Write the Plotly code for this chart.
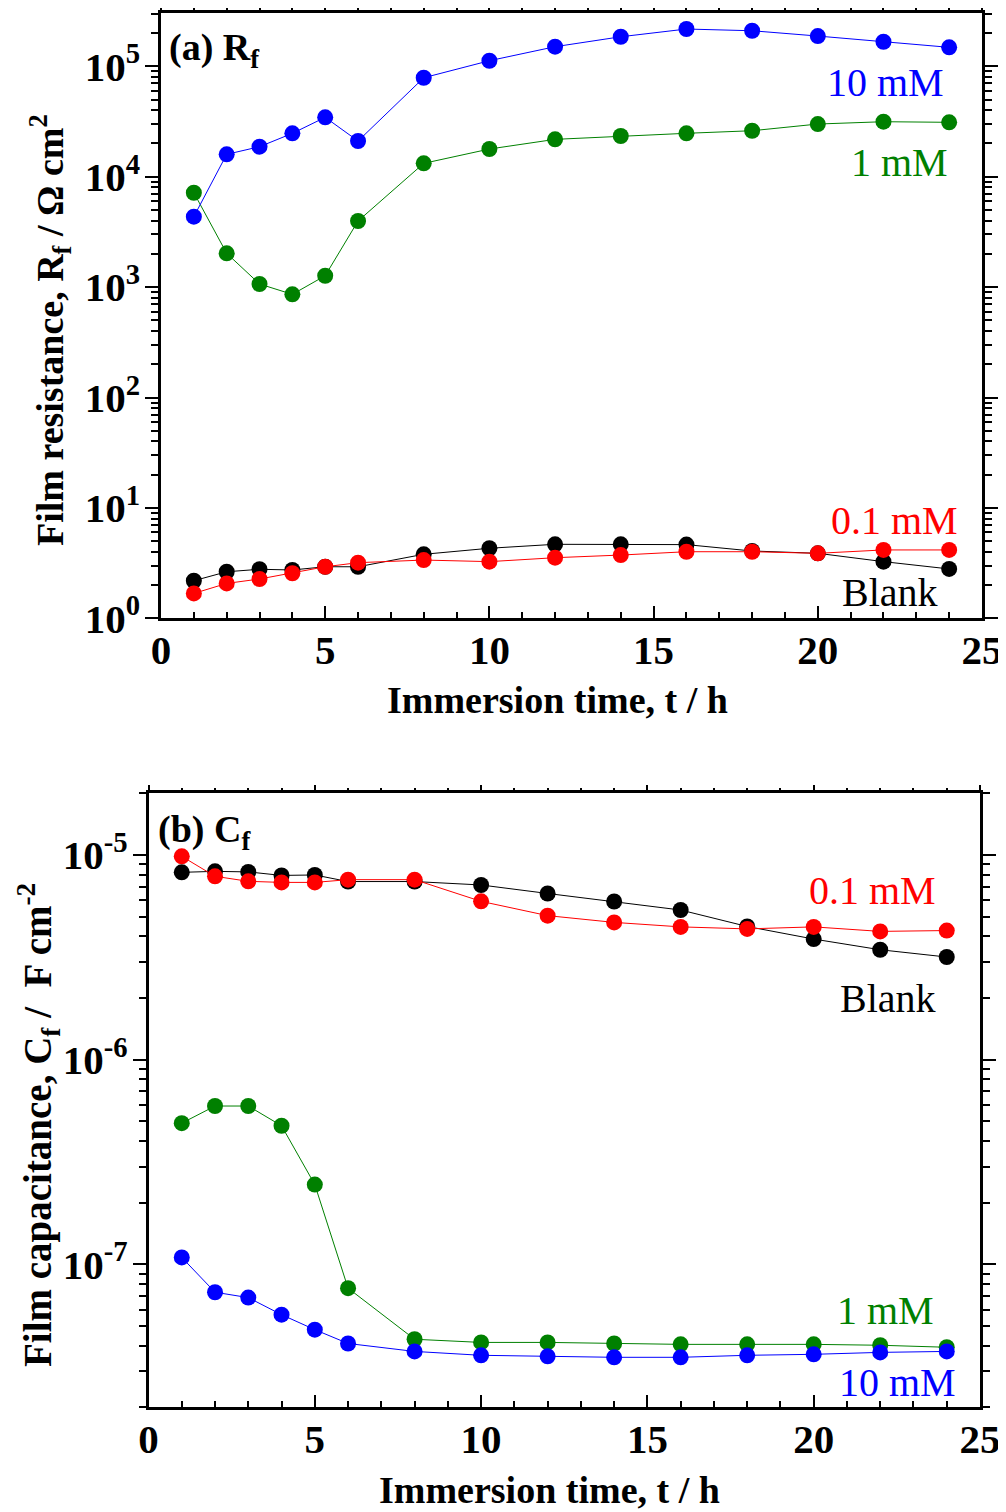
import plotly.graph_objects as go
import numpy as np

# ---------------- data ----------------
time_h = [1, 2, 3, 4, 5, 6, 8, 10, 12, 14, 16, 18, 20, 22, 24]

rf_blank = [2.19, 2.64, 2.78, 2.74, 2.93, 2.93, 3.80, 4.31, 4.68, 4.68, 4.65, 4.07, 3.88, 3.26, 2.80]
rf_01mM = [1.68, 2.07, 2.27, 2.56, 2.93, 3.19, 3.37, 3.26, 3.54, 3.74, 4.01, 4.01, 3.88, 4.16, 4.16]
rf_1mM = [7160, 2024, 1067, 860, 1268, 3970, 13220, 17820, 21800, 23380, 24730, 26100, 30000, 31500, 31100]
rf_10mM = [4345, 15950, 18700, 24700, 34500, 21050, 78800, 112400, 150600, 185300, 217700, 210000, 188000, 167000, 148600]

cf_blank = [8.22e-6, 8.31e-6, 8.26e-6, 7.94e-6, 7.98e-6, 7.41e-6, 7.41e-6, 7.13e-6, 6.48e-6, 5.92e-6, 5.38e-6, 4.47e-6, 3.88e-6, 3.44e-6, 3.17e-6]
cf_01mM = [9.84e-6, 7.86e-6, 7.43e-6, 7.34e-6, 7.34e-6, 7.57e-6, 7.57e-6, 5.93e-6, 5.05e-6, 4.68e-6, 4.45e-6, 4.35e-6, 4.45e-6, 4.23e-6, 4.27e-6]
cf_1mM = [4.89e-7, 5.93e-7, 5.93e-7, 4.75e-7, 2.45e-7, 7.64e-8, 4.30e-8, 4.15e-8, 4.15e-8, 4.10e-8, 4.06e-8, 4.06e-8, 4.06e-8, 4.02e-8, 3.93e-8]
cf_10mM = [1.08e-7, 7.30e-8, 6.87e-8, 5.67e-8, 4.79e-8, 4.10e-8, 3.75e-8, 3.59e-8, 3.55e-8, 3.51e-8, 3.51e-8, 3.59e-8, 3.63e-8, 3.71e-8, 3.75e-8]

x_ticks = [0, 5, 10, 15, 20, 25]
rf_tick_exp = [0, 1, 2, 3, 4, 5]
cf_tick_exp = [-7, -6, -5]

series_names = ["Blank", "0.1 mM", "1 mM", "10 mM"]
colors = ["#000000", "#FF0000", "#008000", "#0000FF"]

# ---------------- figure ----------------
W, H = 1006, 1512
OFF = 8  # page body margin
FONT = "Liberation Serif"

def px_x(p):
    return (p - OFF) / W

def px_y(p):
    return 1 - (p - OFF) / H

fig = go.Figure()

for vals, name, col in zip([rf_blank, rf_01mM, rf_1mM, rf_10mM], series_names, colors):
    fig.add_trace(go.Scatter(x=time_h, y=vals, mode="lines+markers", name=name,
                             line=dict(color=col, width=1),
                             marker=dict(color=col, size=16, line=dict(width=0)),
                             xaxis="x", yaxis="y", showlegend=False))
for vals, name, col in zip([cf_blank, cf_01mM, cf_1mM, cf_10mM], series_names, colors):
    fig.add_trace(go.Scatter(x=time_h, y=vals, mode="lines+markers", name=name,
                             line=dict(color=col, width=1),
                             marker=dict(color=col, size=16, line=dict(width=0)),
                             xaxis="x2", yaxis="y2", showlegend=False))
# dummy traces for the top tick axes
fig.add_trace(go.Scatter(x=[None], y=[None], xaxis="x3", yaxis="y", showlegend=False, hoverinfo="skip"))
fig.add_trace(go.Scatter(x=[None], y=[None], xaxis="x4", yaxis="y2", showlegend=False, hoverinfo="skip"))

top_dom_x = [px_x(161), px_x(982)]
bot_dom_x = [px_x(148.5), px_x(980)]
top_dom_y = [px_y(618.3), px_y(13)]
bot_dom_y = [px_y(1407.3), px_y(793.3)]

tickfont = dict(family=FONT, size=41, color="black")

def xax(domain, anchor, show_labels=True):
    return dict(domain=domain, anchor=anchor, range=[0, 25], tickmode="array",
                tickvals=x_ticks, ticktext=[f"<b>{v}</b>" for v in x_ticks],
                ticks="inside", ticklen=13, tickwidth=2, tickcolor="black",
                showline=True, linecolor="black", linewidth=2.5, mirror=True,
                showgrid=False, zeroline=False, tickfont=tickfont,
                showticklabels=show_labels, ticklabelstandoff=-6,
                minor=dict(dtick=1, tick0=0, ticks="inside", ticklen=7, tickwidth=1.5, tickcolor="black"))

def xtop(domain, anchor, over):
    return dict(domain=domain, anchor=anchor, overlaying=over, side="top", range=[0, 25],
                tickmode="linear", tick0=0, dtick=5, ticks="outside", ticklen=7, tickwidth=1.5,
                tickcolor="black", showticklabels=False, showline=False, showgrid=False, zeroline=False,
                minor=dict(dtick=1, tick0=0, ticks="outside", ticklen=4, tickwidth=1.5, tickcolor="black"))

def yax(domain, anchor, rng, exps):
    lo, hi = int(np.floor(rng[0])), int(np.ceil(rng[1]))
    minor_vals = [m * 10 ** e for e in range(lo, hi + 1) for m in range(2, 10)]
    return dict(domain=domain, anchor=anchor, type="log", range=rng, tickmode="array",
                tickvals=[10 ** e for e in exps],
                ticktext=[f"<b>10<sup>{e}</sup></b>" for e in exps],
                ticks="outside", ticklen=13, tickwidth=2, tickcolor="black",
                showline=True, linecolor="black", linewidth=2.5, mirror="ticks",
                showgrid=False, zeroline=False, tickfont=tickfont, ticklabelstandoff=-3,
                minor=dict(tickvals=minor_vals, ticks="outside", ticklen=7, tickwidth=1.5, tickcolor="black"))

fig.update_layout(
    width=W, height=H, margin=dict(l=0, r=0, t=0, b=0, autoexpand=False),
    paper_bgcolor="white", plot_bgcolor="white",
    font=dict(family=FONT, color="black"),
    xaxis=xax(top_dom_x, "y"),
    yaxis=yax(top_dom_y, "x", [0, 5.483], rf_tick_exp),
    xaxis2=xax(bot_dom_x, "y2"),
    yaxis2=yax(bot_dom_y, "x2", [np.log10(2e-8), np.log10(2e-5)], cf_tick_exp),
    xaxis3=xtop(top_dom_x, "y", "x"),
    xaxis4=xtop(bot_dom_x, "y2", "x2"),
)

ann = []
def label(text, x, y, color="black", size=40, xanchor="center", angle=0, bold=False):
    t = f"<b>{text}</b>" if bold else text
    ann.append(dict(text=t, x=px_x(x), y=px_y(y), xref="paper", yref="paper",
                    xanchor=xanchor, yanchor="middle", showarrow=False, textangle=angle,
                    font=dict(family=FONT, size=size, color=color)))

# panel labels
label("(a) R<sub>f</sub>", 167, 50, size=38, xanchor="left", bold=True)
label("(b) C<sub>f</sub>", 156, 832, size=38, xanchor="left", bold=True)

# series labels, top
label("10 mM", 946, 82, color="#0000FF", xanchor="right")
label("1 mM", 950, 162, color="#008000", xanchor="right")
label("0.1 mM", 960, 520, color="#FF0000", xanchor="right")
label("Blank", 940, 593, color="black", xanchor="right")
# series labels, bottom
label("0.1 mM", 938, 890, color="#FF0000", xanchor="right")
label("Blank", 938, 998, color="black", xanchor="right")
label("1 mM", 936, 1310, color="#008000", xanchor="right")
label("10 mM", 958, 1382, color="#0000FF", xanchor="right")

# axis titles
label("Immersion time, t / h", 557, 700, size=38, bold=True)
label("Immersion time, t / h", 549, 1490, size=38, bold=True)
label("Film resistance, R<sub>f</sub> / Ω cm<sup>2</sup>", 50, 330, size=38, angle=-90, bold=True)
label("Film capacitance, C<sub>f</sub> /  F cm<sup>-2</sup>", 38, 1125, size=39, angle=-90, bold=True)

fig.update_layout(annotations=ann)
fig.write_html("out.html")
